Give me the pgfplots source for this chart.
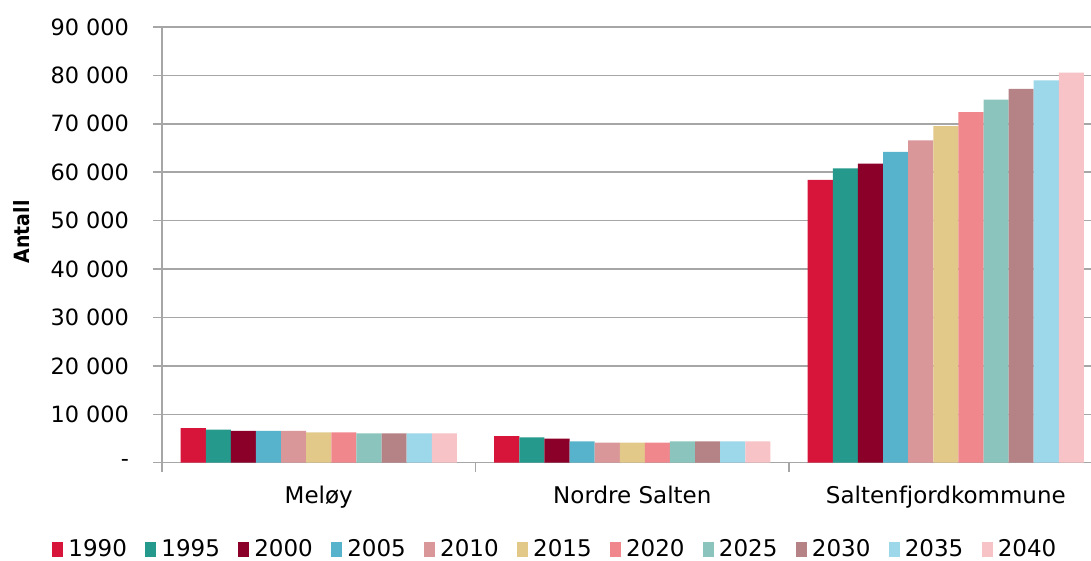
\documentclass[border=0pt]{standalone}
\usepackage{pgfplots}
\pgfplotsset{compat=1.18}
\usepackage{fontspec}
\setmainfont{DejaVu Sans}
\newfontfamily\condfont{DejaVu Sans Condensed}
\definecolor{c1990}{HTML}{D7153A}
\definecolor{c1995}{HTML}{25998C}
\definecolor{c2000}{HTML}{8B0029}
\definecolor{c2005}{HTML}{56B3CB}
\definecolor{c2010}{HTML}{D9979A}
\definecolor{c2015}{HTML}{E2C98A}
\definecolor{c2020}{HTML}{F0878C}
\definecolor{c2025}{HTML}{8AC4BC}
\definecolor{c2030}{HTML}{B58386}
\definecolor{c2035}{HTML}{9DD7EA}
\definecolor{c2040}{HTML}{F7C3C6}
\definecolor{gridgray}{HTML}{A6A6A6}
\begin{document}
\begin{tikzpicture}
\begin{axis}[
  at={(81pt,49.15pt)}, anchor=south west,
  scale only axis,
  width=464.5pt, height=217.85pt,
  xmin=-0.5, xmax=2.463,
  ymin=0, ymax=90000,
  scaled y ticks=false,
  ybar=0pt, bar width=0.0801,
  axis lines=left,
  axis line style={-, draw=gridgray, line width=0.75pt},
  tick align=outside,
  ytick={0,10000,20000,30000,40000,50000,60000,70000,80000,90000},
  yticklabels={-,10 000,20 000,30 000,40 000,50 000,60 000,70 000,80 000,90 000},
  yticklabel style={font=\fontsize{11.2}{13}\selectfont, text=black, xshift=-8.5pt},
  ymajorgrids,
  grid style={draw=gridgray, line width=0.75pt},
  major tick style={draw=gridgray, line width=0.75pt},
  major tick length=4.5pt,
  xtick={-0.5,0.5,1.5,2.5},
  xticklabels={},
  extra x ticks={0,1,2},
  extra x tick labels={Meløy,Nordre Salten,Saltenfjordkommune},
  extra x tick style={major tick length=0pt, grid=none,
    xticklabel style={font=\fontsize{11.5}{13}\selectfont, text=black, yshift=-8pt}},
  ylabel={\textbf{Antall}},
  ylabel style={at={(axis description cs:-0.1507,0.53)}, anchor=center, font=\condfont\fontsize{10.5}{12}\selectfont},
  legend style={at={(axis description cs:0.424,-0.2)}, anchor=center, draw=none, fill=none,
    font=\fontsize{11.5}{13}\selectfont, legend columns=11,
    /tikz/every even column/.append style={column sep=7.7pt},
    nodes={inner sep=1.5pt}},
  legend image code/.code={\fill[#1] (0pt,-3.75pt) rectangle (5.5pt,3.75pt); \path (6.5pt,0pt);},
  every axis plot/.append style={draw=none},
]
\addplot[fill=c1990] coordinates {(0,7150) (1,5500) (2,58400)};
\addplot[fill=c1995] coordinates {(0,6850) (1,5240) (2,60800)};
\addplot[fill=c2000] coordinates {(0,6550) (1,4950) (2,61800)};
\addplot[fill=c2005] coordinates {(0,6550) (1,4400) (2,64200)};
\addplot[fill=c2010] coordinates {(0,6550) (1,4130) (2,66600)};
\addplot[fill=c2015] coordinates {(0,6270) (1,4130) (2,69500)};
\addplot[fill=c2020] coordinates {(0,6270) (1,4130) (2,72400)};
\addplot[fill=c2025] coordinates {(0,6070) (1,4400) (2,75000)};
\addplot[fill=c2030] coordinates {(0,6070) (1,4400) (2,77200)};
\addplot[fill=c2035] coordinates {(0,6070) (1,4400) (2,79000)};
\addplot[fill=c2040] coordinates {(0,6070) (1,4400) (2,80600)};
\legend{1990,1995,2000,2005,2010,2015,2020,2025,2030,2035,2040}
\end{axis}
\pgfresetboundingbox
\useasboundingbox (0pt,0pt) rectangle (545.5pt,280.5pt);
\end{tikzpicture}
\end{document}
